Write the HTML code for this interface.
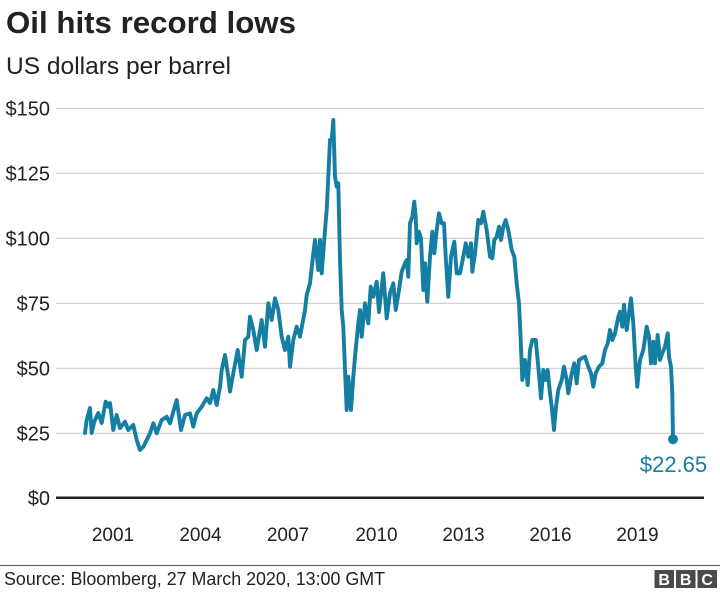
<!DOCTYPE html>
<html><head><meta charset="utf-8"><style>
html,body{margin:0;padding:0;background:#fff;}
svg{display:block;}
</style></head><body>
<svg width="720" height="596" viewBox="0 0 720 596" xmlns="http://www.w3.org/2000/svg" font-family="'Liberation Sans', Arial, sans-serif">
<rect width="720" height="596" fill="#fff"/>
<text x="6" y="33" font-size="31" font-weight="bold" fill="#222" textLength="290" lengthAdjust="spacingAndGlyphs">Oil hits record lows</text>
<text x="6" y="74" font-size="24" fill="#222" textLength="225" lengthAdjust="spacingAndGlyphs">US dollars per barrel</text>
<g stroke="#cccccc" stroke-width="1.2">
<line x1="56" y1="108.3" x2="704" y2="108.3"/>
<line x1="56" y1="173.3" x2="704" y2="173.3"/>
<line x1="56" y1="238.3" x2="704" y2="238.3"/>
<line x1="56" y1="303.3" x2="704" y2="303.3"/>
<line x1="56" y1="368.3" x2="704" y2="368.3"/>
<line x1="56" y1="433.3" x2="704" y2="433.3"/>
</g>
<line x1="56" y1="497.7" x2="704" y2="497.7" stroke="#222" stroke-width="2.5"/>
<g font-size="20" fill="#222" text-anchor="end">
<text x="50" y="115.5">$150</text>
<text x="50" y="180.5">$125</text>
<text x="50" y="245.5">$100</text>
<text x="50" y="310.5">$75</text>
<text x="50" y="375.5">$50</text>
<text x="50" y="440.5">$25</text>
<text x="50" y="505">$0</text>
</g>
<g font-size="19" fill="#222" text-anchor="middle">
<text x="113" y="541">2001</text>
<text x="200.5" y="541">2004</text>
<text x="288" y="541">2007</text>
<text x="376.5" y="541">2010</text>
<text x="463.5" y="541">2013</text>
<text x="550.5" y="541">2016</text>
<text x="637.5" y="541">2019</text>
</g>
<polyline fill="none" stroke="#157fa3" stroke-width="3.9" stroke-linejoin="round" stroke-linecap="round" points="85,433 86.7,420 90,408 91.7,433 94.3,421.7 98.3,413 101.7,423 105.7,401.7 108.3,406.7 110,403 113.3,430 116.7,415 120,428 125,421.7 128.3,430 133.3,425 136.7,440 140,450 143.3,446.7 146.7,440 150,433.3 153.3,423.3 156.7,433.3 161.7,420 166.7,416.7 170,423.3 176.7,400 181,430 185,415 190,413.3 193.3,426.7 196.7,413.3 201.7,406.7 206.7,398.3 210,403 213.3,390 216.7,405 220,386.7 221.7,370 225,355 228.3,376.7 230,391.7 233.3,373.3 237.7,350 241.7,376.7 245,340 248.3,336.7 250,316.7 253.3,330 256.7,350 261.7,320 265,346.7 268.3,303.3 271.7,320 275,298.3 278.3,310 281.7,336.7 285,350 288.3,336.7 290,366.7 293.3,340 296.7,326.7 300,336.7 305,310 306.7,295 310,283.3 313.3,253.3 315,240 318.3,270 320,240 321.7,273.3 325,230 326.7,210 328.3,176.7 330,140 331.7,140 333.3,120 335,176.7 336.7,186.7 338.3,183.3 340,260 341.7,310 343.3,326.7 345,370 346.7,410 348.3,376.7 351,410 353.3,376.7 355,356.7 358.3,323.3 360,310 361.7,336.7 365,303.3 368.3,323.3 370.7,286.7 373.3,296.7 376.7,281.7 379,312 383.3,273.3 386.7,318.3 390,293.3 393.3,283.3 395.7,310 399,290 401.7,271.7 405,263.3 406.7,260 408.3,276.7 410,223.3 412.3,216.7 414.3,201.7 415.7,216.7 416.7,243.3 419,231.7 421,238.3 423.3,290 425,263.3 427.3,301.7 430,256.7 432.3,231.7 434.3,253.3 436.7,230 439,213.3 441.7,223.3 444,223.3 445.7,256.7 448.3,296.7 451,256.7 454.3,241.7 456.7,273.3 460,273.3 463.3,256.7 465.7,243.3 468.3,256.7 471,243.3 472.3,271.7 475,253.3 478.3,220 481,223.3 483.3,211.7 486.7,230 490,256.7 492.3,258.3 494.3,240 496.7,236.7 499,226.7 501,240 503.3,226.7 505.7,220 508.3,230 511.7,250 514.3,256.7 516.7,283.3 519,303.3 520.7,340 522.3,380 525,360 527.7,385 530,350 532.3,340 535.7,340 538.3,366.7 541,398.3 543.3,370 545.7,380 547.7,370 550,393.3 551.7,406.7 554,430 556,406.7 558.3,390 561.7,380 564,366.7 566.7,380 568.3,393.3 571.7,373.3 574.3,363.3 576.7,383.3 579,360 581.7,358.3 585,356.7 588.3,366.7 591,373.3 593.3,386.7 595.7,373.3 599,366.7 602.3,363.3 605,350 607.7,343.3 610,330 612.3,340 615,333.3 618.3,316.7 620,311.7 622.3,326.7 624,305 626.7,330 629,313.3 631,298.3 633.3,323.3 635.7,366.7 637.3,386.7 640,360 643.3,350 646.7,326.7 649,336.7 651,363.3 653.3,341.7 655,363.3 657.7,335 660,360 662.3,353.3 665,346.7 667.7,333.3 669,356.7 671,366.7 672.3,393.3 673,439"/>
<circle cx="673" cy="439.2" r="5" fill="#157fa3"/>
<text x="673.5" y="472" font-size="22" fill="#157fa3" text-anchor="middle">$22.65</text>
<line x1="0" y1="565.5" x2="720" y2="565.5" stroke="#666" stroke-width="1.3"/>
<text x="4" y="585" font-size="18.5" fill="#222" textLength="381" lengthAdjust="spacingAndGlyphs">Source: Bloomberg, 27 March 2020, 13:00 GMT</text>
<g>
<rect x="654.5" y="570" width="19.5" height="18" fill="#4a4a4a"/>
<rect x="676" y="570" width="19.5" height="18" fill="#4a4a4a"/>
<rect x="697.5" y="570" width="19.5" height="18" fill="#4a4a4a"/>
<g font-size="16" font-weight="bold" fill="#fff" text-anchor="middle">
<text x="664.2" y="585">B</text>
<text x="685.7" y="585">B</text>
<text x="707.2" y="585">C</text>
</g>
</g>
</svg>
</body></html>
